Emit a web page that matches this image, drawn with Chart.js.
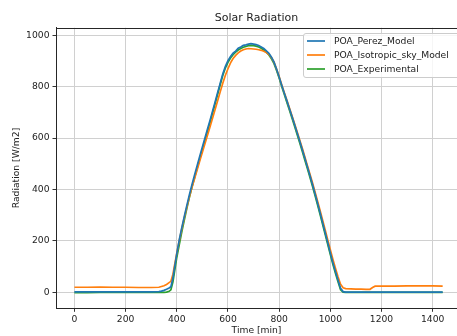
<!DOCTYPE html>
<html>
<head>
<meta charset="utf-8">
<script src="https://cdn.jsdelivr.net/npm/chart.js@4.4.0/dist/chart.umd.min.js"></script>
<style>
html,body{margin:0;padding:0;background:#ffffff;overflow:hidden;}
canvas{display:block;}
</style>
</head>
<body>
<canvas id="c" width="457" height="336"></canvas>
<script>
// ---- data ----
const timeMin = [
  0,50,100,150,200,250,300,330,340,350,360,370,377,385,390,400,
  410,420,430,440,450,460,470,480,490,500,
  510,520,530,540,550,560,570,580,590,600,
  610,620,630,640,650,660,670,680,690,700,
  710,720,730,740,750,760,770,780,790,800,
  810,820,830,840,850,860,870,880,890,900,
  910,920,930,940,950,960,970,980,990,1000,
  1010,1020,1030,1040,1050,1060,
  1080,1100,1120,1140,1155,1165,1175,1200,1250,1300,1350,1400,1439
];
const poaPerez = [
  1,1,1,1,1,1,1,2,4,7,11,16,21,55,88,150,
  205,253,298,341,382,421,458,494,530,565,
  600,635,670,706,742,779,815,851,880,902,
  918,931,939,950,955,961,963,966,968,966,
  964,961,955,949,940,930,915,896,868,838,
  806,776,746,715,685,654,622,590,557,523,
  489,455,420,384,347,309,270,231,192,153,
  115,80,47,15,2,0,
  0,0,0,0,0,0,0,0,0,0,0,0,0
];
const poaIsotropic = [
  19,19,20,19,19,18,18,19,22,25,30,37,42,70,98,152,
  202,249,293,334,374,410,444,478,512,545,
  578,611,644,678,712,746,781,815,845,870,
  893,910,922,932,939,944,947,949,948,947,
  946,944,942,938,933,926,914,896,869,840,
  808,778,748,718,688,657,626,594,562,528,
  494,461,427,391,355,318,280,242,203,165,
  128,93,60,31,17,14,
  13,12,12,11,11,18,23,23,23,24,24,24,23
];
const poaExperimental = [
  -2,-2,-1,-1,-1,-1,-1,-1,-1,-1,0,3,9,40,72,135,
  186,237,284,329,372,411,448,484,520,556,
  591,626,661,698,735,772,809,845,873,895,
  912,925,935,943,949,954,957,960,961,960,
  958,955,950,943,934,924,909,890,863,834,
  801,771,740,709,678,647,615,583,550,516,
  482,448,413,377,340,302,263,224,185,146,
  108,73,40,9,0,-1,
  -1,-1,-1,-1,-1,-1,-1,-1,-1,-1,-1,-1,-1
];
const xTickValues = [0,200,400,600,800,1000,1200,1400];
const yTickValues = [0,200,400,600,800,1000];
const seriesNames = ['POA_Perez_Model','POA_Isotropic_sky_Model','POA_Experimental'];
const seriesColors = ['#1f77b4','#ff7f0e','#2ca02c'];
const seriesValues = [poaPerez, poaIsotropic, poaExperimental];

// ---- chart ----
const FONT = "'DejaVu Sans', sans-serif";
Chart.defaults.font.family = FONT;
Chart.defaults.font.size = 9.2;
Chart.defaults.color = '#222222';

const frameAndLegend = {
  id: 'frameAndLegend',
  afterDraw(chart) {
    const ctx = chart.ctx;
    const a = chart.chartArea;
    ctx.save();
    // top spine
    ctx.strokeStyle = '#262626';
    ctx.lineWidth = 1;
    ctx.beginPath();
    ctx.moveTo(a.left, Math.round(a.top) + 0.5);
    ctx.lineTo(a.right, Math.round(a.top) + 0.5);
    ctx.stroke();
    // legend box
    const x0 = 303.5, y0 = 33.5, w = 170, h = 44, r = 2.5;
    ctx.beginPath();
    ctx.moveTo(x0 + r, y0);
    ctx.lineTo(x0 + w - r, y0);
    ctx.quadraticCurveTo(x0 + w, y0, x0 + w, y0 + r);
    ctx.lineTo(x0 + w, y0 + h - r);
    ctx.quadraticCurveTo(x0 + w, y0 + h, x0 + w - r, y0 + h);
    ctx.lineTo(x0 + r, y0 + h);
    ctx.quadraticCurveTo(x0, y0 + h, x0, y0 + h - r);
    ctx.lineTo(x0, y0 + r);
    ctx.quadraticCurveTo(x0, y0, x0 + r, y0);
    ctx.closePath();
    ctx.fillStyle = 'rgba(255,255,255,0.8)';
    ctx.fill();
    ctx.strokeStyle = '#cccccc';
    ctx.lineWidth = 1;
    ctx.stroke();
    chart.data.datasets.forEach((ds, i) => {
      const y = 41 + i * 14;
      ctx.strokeStyle = ds.borderColor;
      ctx.lineWidth = 1.7;
      ctx.beginPath();
      ctx.moveTo(307, y);
      ctx.lineTo(325, y);
      ctx.stroke();
      ctx.fillStyle = '#222222';
      ctx.font = '9.2px ' + FONT;
      ctx.textBaseline = 'middle';
      ctx.textAlign = 'left';
      ctx.fillText(ds.label, 334, y + 0.5);
    });
    ctx.restore();
  }
};

new Chart(document.getElementById('c'), {
  type: 'line',
  data: {
    datasets: seriesNames.map((name, i) => ({
      label: name,
      data: timeMin.map((t, k) => ({x: t, y: seriesValues[i][k]})),
      borderColor: seriesColors[i],
      backgroundColor: seriesColors[i],
      borderWidth: 1.7,
      pointRadius: 0,
      tension: 0,
      fill: false
    }))
  },
  options: {
    responsive: false,
    animation: false,
    devicePixelRatio: 1,
    layout: {padding: 0},
    plugins: {
      legend: {display: false},
      tooltip: {enabled: false},
      title: {
        display: true,
        fullSize: false,
        text: 'Solar Radiation',
        font: {size: 11, weight: 'normal', family: FONT},
        color: '#222222',
        padding: {top: 11.5, bottom: 3}
      }
    },
    scales: {
      x: {
        type: 'linear',
        min: -72,
        max: 1495,
        afterBuildTicks: s => { s.ticks = xTickValues.map(v => ({value: v})); },
        afterFit: s => { s.height = 27.7; },
        ticks: {padding: 2, includeBounds: false, color: '#222222', maxRotation: 0, callback: v => String(v)},
        grid: {color: '#d0d0d0', lineWidth: 1, tickLength: 3.5, tickColor: '#333333', drawTicks: true},
        border: {display: true, color: '#262626', width: 1},
        title: {display: true, text: 'Time [min]', font: {size: 9.2, family: FONT}, color: '#222222', padding: {top: 0, bottom: 0.3}}
      },
      y: {
        type: 'linear',
        min: -63,
        max: 1030,
        afterBuildTicks: s => { s.ticks = yTickValues.map(v => ({value: v})); },
        afterFit: s => { s.width = 56; },
        ticks: {padding: 3, includeBounds: false, color: '#222222', callback: v => String(v)},
        grid: {color: '#d0d0d0', lineWidth: 1, tickLength: 3.5, tickColor: '#333333', drawTicks: true},
        border: {display: true, color: '#262626', width: 1},
        title: {display: true, text: 'Radiation [W/m2]', font: {size: 9.2, family: FONT}, color: '#222222', padding: {top: 11.3, bottom: 0}}
      }
    }
  },
  plugins: [frameAndLegend]
});
</script>
</body>
</html>
